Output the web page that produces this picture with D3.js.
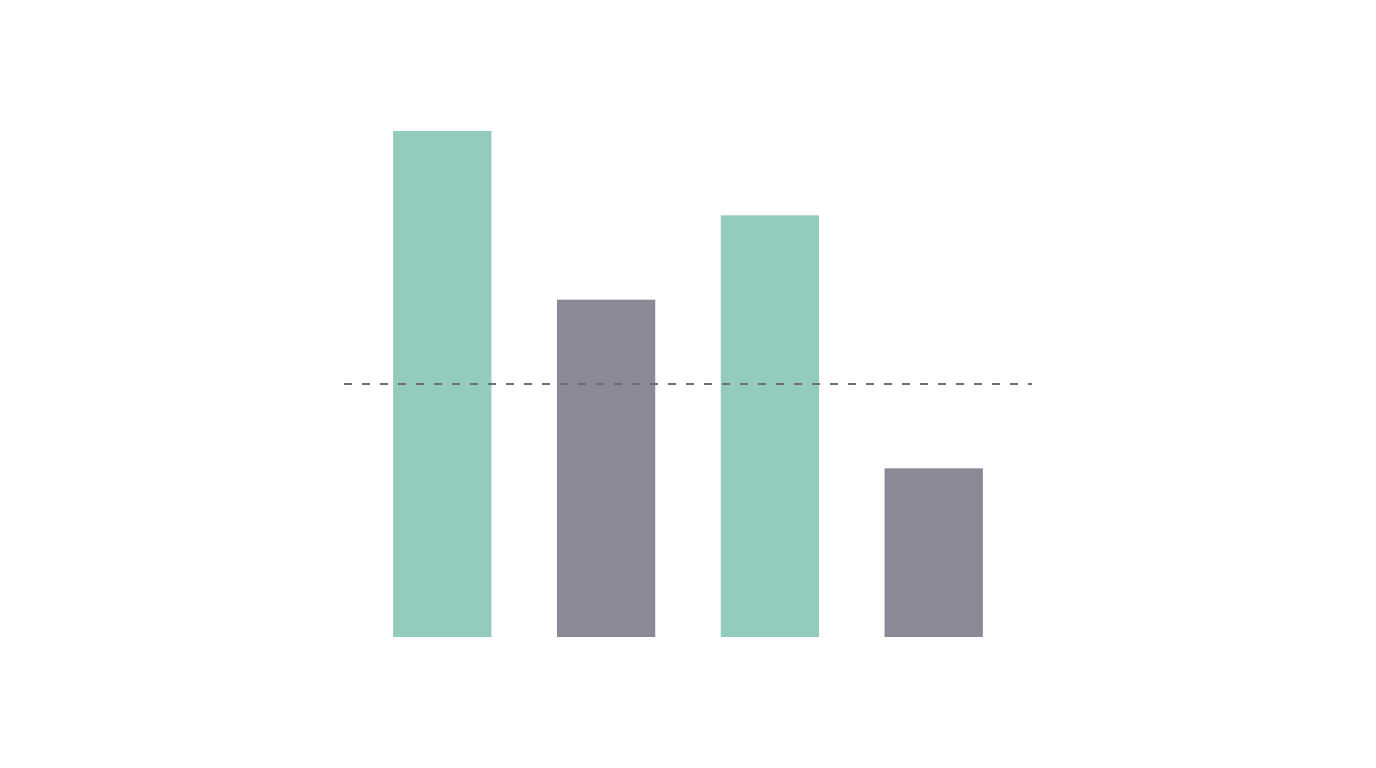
<!DOCTYPE html>
<html>
<head>
<meta charset="utf-8">
<script src="https://cdn.jsdelivr.net/npm/d3@7"></script>
<style>
  body { margin: 0; background: #fff; }
  svg { display: block; }
</style>
</head>
<body>
<script>
var categories = ["A", "B", "C", "D"];
var values = [6, 4, 5, 2];
var refValue = 3;

var width = 1376,
    height = 768,
    plotLeft = 344,
    plotRight = 1032,
    plotTop = 131,
    plotBottom = 637;

var colors = ["#93cbbd", "#8b8996", "#93cbbd", "#8b8996"];

var svg = d3.select("body").append("svg")
    .attr("width", width)
    .attr("height", height);

var x = d3.scaleBand()
    .domain(categories)
    .range([plotLeft, plotRight])
    .paddingInner(0.4)
    .paddingOuter(0.3);

var y = d3.scaleLinear()
    .domain([0, d3.max(values)])
    .range([plotBottom, plotTop]);

svg.append("g")
    .selectAll("rect")
    .data(values)
    .enter()
    .append("rect")
    .attr("x", function(d, i) { return x(categories[i]); })
    .attr("y", function(d) { return y(d); })
    .attr("width", x.bandwidth())
    .attr("height", function(d) { return y(0) - y(d); })
    .attr("fill", function(d, i) { return colors[i]; });

// reference line
svg.append("line")
    .attr("x1", plotLeft)
    .attr("x2", plotRight)
    .attr("y1", y(refValue))
    .attr("y2", y(refValue))
    .attr("stroke", "#6e6e76")
    .attr("stroke-width", 2)
    .attr("stroke-dasharray", "8,10");
</script>
</body>
</html>
